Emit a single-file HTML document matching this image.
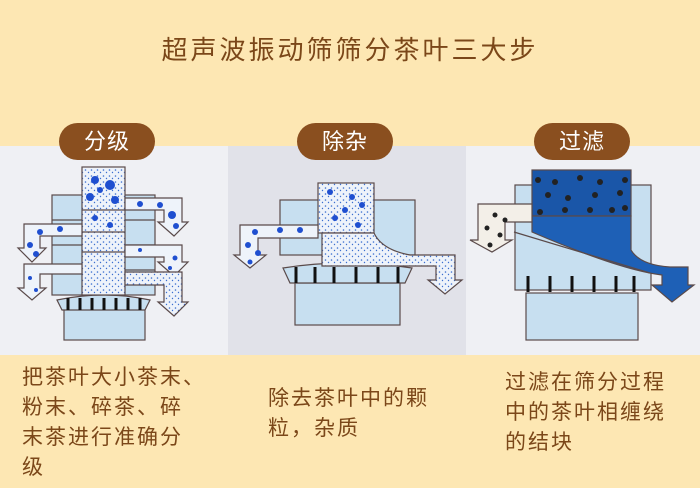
<!DOCTYPE html>
<html><head><meta charset="utf-8"><style>
body{margin:0;width:700px;height:488px;overflow:hidden;background:#fde7b3;font-family:"Liberation Sans","Noto Sans CJK SC",sans-serif;position:relative}
.t{position:absolute;top:30px;left:0;width:700px;text-align:center;font-size:26px;letter-spacing:3px;color:#7b4719}
.pill{position:absolute;top:123px;width:96px;height:37px;border-radius:19px;background:#8a4f1f;color:#fff;font-size:22px;letter-spacing:1px;line-height:37px;text-align:center;z-index:2}
.bt{position:absolute;font-size:21px;letter-spacing:2px;line-height:30px;color:#7b4719;white-space:nowrap}
svg{position:absolute;left:0;top:0}
</style></head><body>
<div class="t">超声波振动筛筛分茶叶三大步</div>
<svg width="700" height="488" viewBox="0 0 700 488">
<defs>
<pattern id="sp" width="6" height="6" patternUnits="userSpaceOnUse"><rect width="6" height="6" fill="#eef3fa"/><circle cx="1.5" cy="2" r="0.8" fill="#3c6fd0"/><circle cx="4.5" cy="4.5" r="0.7" fill="#3c6fd0"/></pattern>
</defs>
<rect x="0" y="146" width="228" height="209" fill="#eff0f4"/>
<rect x="228" y="146" width="238" height="209" fill="#e1e2e9"/>
<rect x="466" y="146" width="234" height="209" fill="#eff0f4"/>
<g stroke="#5a4a4a" stroke-width="1.2" fill="#c7dff0">
<rect x="52" y="195" width="103" height="100"/>
<line x1="52" y1="220" x2="155" y2="220"/><line x1="52" y1="245" x2="155" y2="245"/><line x1="52" y1="270" x2="155" y2="270"/>
<rect x="64" y="308" width="81" height="32"/>
<path d="M57 300 Q105 290 150 300 L145 310 L62 310Z" fill="#c7dff0"/>
<rect x="82" y="167" width="43" height="128" fill="url(#sp)"/>
<line x1="82" y1="210" x2="125" y2="210"/><line x1="82" y1="232" x2="125" y2="232"/><line x1="82" y1="252" x2="125" y2="252"/>
<path d="M125 198 H182 V222 H188 L174 236 L158 222 H164 V210 H125Z" fill="#eef3fa"/>
<path d="M125 245 H182 V262 H188 L174 276 L158 262 H164 V257 H125Z" fill="#eef3fa"/>
<path d="M125 272 H182 V302 H188 L174 316 L158 302 H164 V285 H125Z" fill="url(#sp)"/>
<path d="M82 224 H24 V248 H18 L32 262 L46 248 H40 V236 H82Z" fill="#eef3fa"/>
<path d="M82 264 H24 V288 H18 L32 300 L46 288 H40 V274 H82Z" fill="#eef3fa"/>
<rect x="280" y="200" width="135" height="55"/>
<rect x="295" y="283" width="105" height="42"/>
<path d="M283 268 Q345 258 412 268 L405 283 L290 283Z"/>
<rect x="318" y="183" width="56" height="50" fill="url(#sp)"/>
<path d="M374 233 Q382 250 410 255 H455 V280 H462 L445 294 L428 280 H436 V266 H322 V233Z" fill="url(#sp)"/>
<path d="M318 225 H240 V255 H234 L250 268 L266 255 H258 V238 H318Z" fill="#eef3fa"/>
<rect x="515" y="185" width="136" height="105"/>
<rect x="526" y="293" width="112" height="47"/>
<rect x="532" y="170" width="99" height="46" fill="#1a56a8"/>
<path d="M532 216 H631 V250 Q640 265 670 267 H688 V285 H694 L672 302 L652 285 H662 V275 Q620 270 532 232Z" fill="#1e60b6"/>
<line x1="514" y1="232" x2="650" y2="273"/>
<path d="M532 204 H478 V240 H470 L492 252 L512 240 H505 V222 H532Z" fill="#f3efe8"/>
</g>
<g fill="#1f4fd0">
<circle cx="95" cy="180" r="4"/><circle cx="110" cy="185" r="5"/><circle cx="90" cy="197" r="4"/><circle cx="115" cy="200" r="4"/><circle cx="100" cy="190" r="3"/>
<circle cx="95" cy="218" r="3"/><circle cx="110" cy="225" r="3"/><circle cx="140" cy="204" r="3"/><circle cx="160" cy="205" r="3"/><circle cx="172" cy="215" r="4"/><circle cx="176" cy="226" r="3"/>
<circle cx="60" cy="229" r="3"/><circle cx="40" cy="232" r="3"/><circle cx="30" cy="245" r="3"/><circle cx="36" cy="254" r="3"/><circle cx="140" cy="250" r="2"/><circle cx="175" cy="258" r="2.5"/><circle cx="170" cy="268" r="2"/>
<circle cx="30" cy="278" r="2"/><circle cx="36" cy="290" r="2"/>
<circle cx="330" cy="192" r="3"/><circle cx="352" cy="197" r="3"/><circle cx="345" cy="210" r="3"/><circle cx="362" cy="205" r="3"/><circle cx="335" cy="218" r="3"/><circle cx="358" cy="225" r="3"/>
<circle cx="255" cy="232" r="3"/><circle cx="280" cy="230" r="3"/><circle cx="300" cy="230" r="3"/><circle cx="248" cy="245" r="3"/><circle cx="258" cy="253" r="3"/><circle cx="250" cy="262" r="2.5"/>
</g>
<g fill="#222">
<circle cx="538" cy="180" r="3"/><circle cx="555" cy="182" r="3"/><circle cx="580" cy="178" r="3"/><circle cx="600" cy="182" r="3"/><circle cx="625" cy="180" r="3"/><circle cx="548" cy="195" r="3"/><circle cx="568" cy="198" r="3"/><circle cx="595" cy="195" r="3"/><circle cx="620" cy="193" r="3"/><circle cx="540" cy="212" r="3"/><circle cx="565" cy="210" r="3"/><circle cx="590" cy="210" r="3"/><circle cx="612" cy="210" r="3"/><circle cx="625" cy="208" r="3"/>
<circle cx="495" cy="215" r="2.5"/><circle cx="487" cy="228" r="2.5"/><circle cx="500" cy="235" r="2.5"/><circle cx="490" cy="245" r="2.5"/><circle cx="505" cy="220" r="2.5"/>
</g>
<g stroke="#111" stroke-width="3">
<line x1="68" y1="298" x2="68" y2="310"/><line x1="80" y1="298" x2="80" y2="310"/><line x1="92" y1="298" x2="92" y2="310"/><line x1="104" y1="298" x2="104" y2="310"/><line x1="116" y1="298" x2="116" y2="310"/><line x1="128" y1="298" x2="128" y2="310"/><line x1="140" y1="298" x2="140" y2="310"/>
<line x1="296" y1="267" x2="296" y2="283"/><line x1="315" y1="267" x2="315" y2="283"/><line x1="334" y1="267" x2="334" y2="283"/><line x1="356" y1="267" x2="356" y2="283"/><line x1="378" y1="267" x2="378" y2="283"/><line x1="398" y1="267" x2="398" y2="283"/>
<line x1="528" y1="276" x2="528" y2="292"/><line x1="550" y1="276" x2="550" y2="292"/><line x1="572" y1="276" x2="572" y2="292"/><line x1="594" y1="276" x2="594" y2="292"/><line x1="616" y1="276" x2="616" y2="292"/><line x1="634" y1="276" x2="634" y2="292"/>
</g>
</svg>
<div class="pill" style="left:59px">分级</div>
<div class="pill" style="left:297px">除杂</div>
<div class="pill" style="left:534px">过滤</div>
<div class="bt" style="left:22px;top:363px">把茶叶大小茶末、<br>粉末、碎茶、碎<br>末茶进行准确分<br>级</div>
<div class="bt" style="left:268px;top:384px">除去茶叶中的颗<br>粒，杂质</div>
<div class="bt" style="left:505px;top:368px">过滤在筛分过程<br>中的茶叶相缠绕<br>的结块</div>
</body></html>
